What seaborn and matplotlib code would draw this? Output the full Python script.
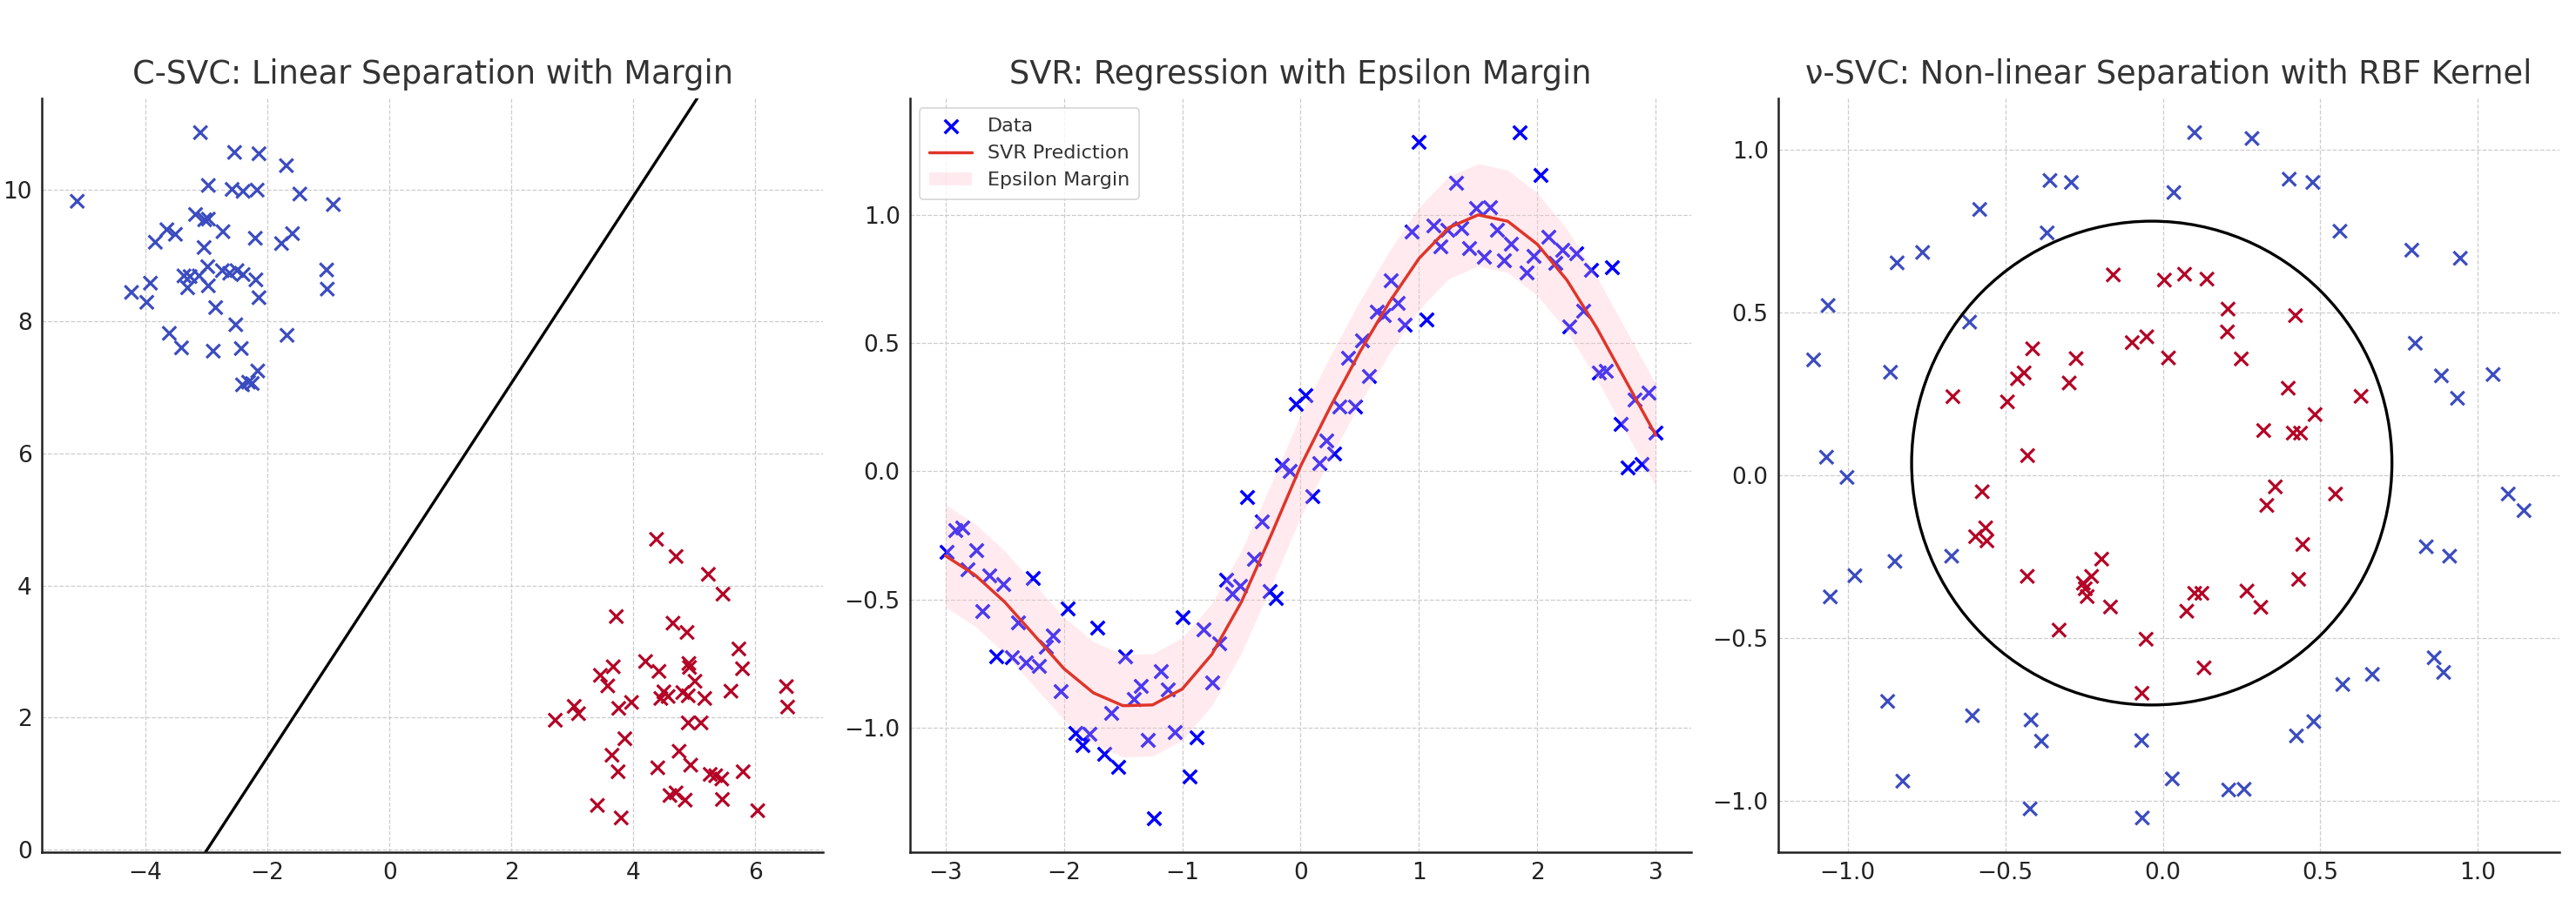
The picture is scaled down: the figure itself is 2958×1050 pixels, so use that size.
import numpy as np
import pandas as pd
import matplotlib
matplotlib.use('Agg')
import matplotlib.pyplot as plt
from matplotlib.patches import Ellipse
import seaborn as sns

# ---------------- C-SVC (two blobs) ----------------
csvc_blue_x = [-5.12, -3.10, -2.54, -2.14, -1.69, -2.97, -2.58, -2.40, -2.17, -1.47,
               -0.92, -3.18, -3.03, -2.97, -3.65, -3.51, -3.84, -2.73, -2.20, -1.77,
               -1.59, -3.04, -3.37, -3.27, -3.12, -2.98, -2.74, -2.62, -2.50, -2.40,
               -2.19, -3.31, -2.97, -3.92, -4.23, -3.98, -2.14, -2.85, -1.03, -1.02,
               -2.52, -3.61, -1.68, -3.41, -2.89, -2.43, -2.16, -2.41, -2.31, -2.25]
csvc_blue_y = [9.82, 10.86, 10.56, 10.54, 10.36, 10.06, 10.00, 9.97, 9.99, 9.93,
               9.77, 9.62, 9.54, 9.55, 9.39, 9.32, 9.20, 9.36, 9.26, 9.18,
               9.33, 9.12, 8.69, 8.68, 8.69, 8.83, 8.77, 8.73, 8.77, 8.71,
               8.63, 8.51, 8.54, 8.58, 8.44, 8.29, 8.36, 8.21, 8.78, 8.49,
               7.95, 7.82, 7.79, 7.60, 7.55, 7.59, 7.25, 7.04, 7.08, 7.06]
csvc_red_x = [4.38, 4.70, 5.23, 5.47, 3.72, 4.65, 4.88, 5.73, 3.67, 4.20,
              4.42, 4.91, 4.92, 5.79, 3.46, 3.58, 5.01, 6.51, 6.53, 4.50,
              4.45, 4.57, 4.81, 4.90, 5.17, 5.60, 3.97, 3.76, 3.03, 3.10,
              2.72, 4.90, 5.11, 3.86, 3.65, 3.75, 4.75, 4.40, 4.94, 5.26,
              5.35, 5.45, 5.80, 4.60, 4.70, 4.85, 5.46, 3.41, 3.80, 6.04]
csvc_red_y = [4.70, 4.44, 4.17, 3.87, 3.53, 3.43, 3.29, 3.04, 2.77, 2.85,
              2.70, 2.82, 2.76, 2.74, 2.64, 2.48, 2.55, 2.47, 2.16, 2.39,
              2.29, 2.32, 2.38, 2.33, 2.29, 2.40, 2.23, 2.14, 2.17, 2.06,
              1.96, 1.92, 1.92, 1.68, 1.43, 1.18, 1.49, 1.24, 1.28, 1.14,
              1.12, 1.07, 1.18, 0.82, 0.86, 0.75, 0.76, 0.67, 0.48, 0.59]
csvc_boundary_slope = 1.416
csvc_boundary_x0 = -2.99   # where the boundary crosses y = 0

# ---------------- SVR (noisy sine) ----------------
svr_x = [-2.99, -2.92, -2.86, -2.74, -2.81, -2.63, -2.51, -2.69, -2.26, -2.39,
         -2.57, -2.44, -2.32, -2.21, -2.15, -2.09, -1.97, -2.03, -1.72, -1.48,
         -1.35, -1.41, -1.60, -1.18, -1.12, -1.90, -1.84, -1.78, -1.66, -1.54,
         -1.29, -1.06, -0.88, -0.94, -1.24, -1.00, -0.82, -0.69, -0.75, -0.63,
         -0.58, -0.51, -0.45, -0.33, -0.39, -0.26, -0.21, -0.16, -0.09, -0.04,
         0.04, 0.33, 0.46, 0.22, 0.28, 0.16, 0.10, 0.52, 0.40, 0.58,
         1.00, 1.85, 2.03, 1.31, 1.48, 1.60, 0.94, 1.12, 1.24, 1.36,
         1.18, 1.42, 1.55, 1.66, 1.78, 1.72, 1.91, 1.97, 2.09, 2.15,
         2.21, 2.33, 2.45, 2.63, 0.76, 0.82, 0.64, 0.70, 0.88, 1.06,
         2.27, 2.39, 2.52, 2.58, 2.94, 2.82, 2.70, 3.00, 2.76, 2.88]
svr_y = [-0.316, -0.229, -0.220, -0.309, -0.384, -0.408, -0.440, -0.545, -0.417, -0.590,
         -0.723, -0.727, -0.747, -0.761, -0.685, -0.640, -0.535, -0.860, -0.612, -0.721,
         -0.839, -0.889, -0.943, -0.780, -0.851, -1.020, -1.068, -1.026, -1.103, -1.155,
         -1.050, -1.018, -1.038, -1.190, -1.353, -0.568, -0.616, -0.673, -0.824, -0.423,
         -0.479, -0.447, -0.102, -0.197, -0.342, -0.467, -0.495, 0.026, 0.000, 0.264,
         0.296, 0.253, 0.253, 0.121, 0.070, 0.033, -0.096, 0.510, 0.442, 0.370,
         1.284, 1.321, 1.155, 1.126, 1.028, 1.031, 0.935, 0.958, 0.943, 0.949,
         0.877, 0.870, 0.836, 0.943, 0.887, 0.824, 0.774, 0.841, 0.915, 0.813,
         0.864, 0.850, 0.787, 0.796, 0.745, 0.655, 0.623, 0.610, 0.570, 0.593,
         0.564, 0.627, 0.384, 0.390, 0.305, 0.279, 0.186, 0.150, 0.015, 0.028]
svr_pred_x = [-3.00, -2.75, -2.50, -2.25, -2.00, -1.75, -1.50, -1.25, -1.00, -0.75,
              -0.50, -0.25, 0.00, 0.25, 0.50, 0.75, 1.00, 1.25, 1.50, 1.75,
              2.00, 2.25, 2.50, 2.75, 3.00]
svr_pred_y = [-0.330, -0.405, -0.510, -0.640, -0.770, -0.865, -0.915, -0.912, -0.850, -0.715,
              -0.510, -0.250, 0.020, 0.250, 0.465, 0.660, 0.830, 0.950, 1.000, 0.975,
              0.885, 0.745, 0.560, 0.350, 0.140]
svr_epsilon = 0.2

# ---------------- nu-SVC (circles) ----------------
nu_blue_x = [-0.358, -0.290, -0.581, -0.367, -0.762, -0.843, -1.062, -0.613, -1.108, -0.864,
             -1.067, -1.002, 0.101, 0.283, 0.035, 0.401, 0.476, 0.562, 0.790, 0.944,
             0.801, 0.884, 1.048, 0.935, -0.850, -0.977, -1.055, -0.670, -0.873, -0.604,
             -0.418, -0.385, -0.067, -0.825, -0.421, -0.065, 1.096, 1.146, 0.836, 0.910,
             0.861, 0.891, 0.571, 0.665, 0.479, 0.424, 0.030, 0.209, 0.258]
nu_blue_y = [0.905, 0.899, 0.816, 0.744, 0.684, 0.652, 0.521, 0.470, 0.354, 0.316,
             0.055, -0.007, 1.052, 1.034, 0.868, 0.909, 0.899, 0.749, 0.691, 0.666,
             0.405, 0.305, 0.309, 0.236, -0.265, -0.309, -0.374, -0.249, -0.695, -0.739,
             -0.752, -0.817, -0.815, -0.940, -1.025, -1.053, -0.058, -0.109, -0.220, -0.249,
             -0.561, -0.606, -0.643, -0.612, -0.757, -0.801, -0.933, -0.967, -0.965]
nu_red_x = [-0.157, -0.097, -0.051, -0.413, -0.275, -0.440, -0.461, -0.297, -0.666, -0.493,
            -0.429, 0.005, 0.069, 0.140, 0.207, 0.421, 0.205, 0.018, 0.249, 0.398,
            0.629, 0.483, 0.320, 0.414, 0.437, -0.573, -0.562, -0.594, -0.558, -0.430,
            -0.194, -0.226, -0.252, -0.246, -0.240, -0.166, -0.329, -0.053, -0.066, 0.357,
            0.330, 0.548, 0.444, 0.431, 0.101, 0.124, 0.267, 0.311, 0.076, 0.131]
nu_red_y = [0.615, 0.407, 0.425, 0.388, 0.358, 0.314, 0.296, 0.283, 0.241, 0.225,
            0.060, 0.599, 0.617, 0.602, 0.510, 0.490, 0.440, 0.360, 0.357, 0.267,
            0.242, 0.186, 0.137, 0.129, 0.129, -0.051, -0.162, -0.189, -0.202, -0.311,
            -0.258, -0.311, -0.332, -0.349, -0.373, -0.405, -0.476, -0.504, -0.670, -0.036,
            -0.093, -0.058, -0.213, -0.320, -0.363, -0.363, -0.356, -0.406, -0.418, -0.592]
nu_boundary_center = (-0.035, 0.037)
nu_boundary_rx = 0.762
nu_boundary_ry = 0.743

# ---------------- styling ----------------
blue_c = plt.cm.coolwarm(0.0)
red_c = plt.cm.coolwarm(1.0)
palette = {0: blue_c, 1: red_c}

sns.set_style('white')
plt.rcParams['font.family'] = ['DejaVu Sans']

fig, axes = plt.subplots(1, 3, figsize=(29.58, 10.5), dpi=100)
fig.subplots_adjust(left=0.0162, right=0.9936, bottom=0.0676, top=0.8924, wspace=0.111)

def style_axes(ax, title):
    ax.set_title(title, fontsize=26.5, color='#333333', pad=12)
    for s in ['top', 'right']:
        ax.spines[s].set_visible(False)
    for s in ['left', 'bottom']:
        ax.spines[s].set_color('#222222')
        ax.spines[s].set_linewidth(1.8)
    ax.tick_params(direction='in', length=6, width=1.5, labelsize=19,
                   colors='#222222', pad=8)
    ax.grid(True, linestyle='--', color='#cccccc', linewidth=0.9)
    ax.set_axisbelow(True)
    ax.set_xlabel('')
    ax.set_ylabel('')

# Panel 1
df1 = pd.DataFrame({
    'x': csvc_blue_x + csvc_red_x,
    'y': csvc_blue_y + csvc_red_y,
    'cls': [0] * len(csvc_blue_x) + [1] * len(csvc_red_x),
})
ax = axes[0]
sns.scatterplot(data=df1, x='x', y='y', hue='cls', palette=palette, marker='x',
                s=125, linewidth=2.3, legend=False, ax=ax)
ax.autoscale_view()
xl, yl = ax.get_xlim(), ax.get_ylim()
ax.axline((csvc_boundary_x0, 0), slope=csvc_boundary_slope, color='black', linewidth=2.4)
ax.set_xlim(xl)
ax.set_ylim(yl)
style_axes(ax, 'C-SVC: Linear Separation with Margin')

# Panel 2
ax = axes[1]
sns.scatterplot(x=svr_x, y=svr_y, color='blue', marker='x', s=125, linewidth=2.5,
                label='Data', ax=ax)
sns.lineplot(x=svr_pred_x, y=svr_pred_y, color='#e0352a', linewidth=2.5,
             label='SVR Prediction', ax=ax)
lo = [v - svr_epsilon for v in svr_pred_y]
hi = [v + svr_epsilon for v in svr_pred_y]
ax.fill_between(svr_pred_x, lo, hi, color='pink', alpha=0.3, linewidth=0,
                label='Epsilon Margin')
style_axes(ax, 'SVR: Regression with Epsilon Margin')
leg = ax.legend(loc='upper left', fontsize=16, frameon=True, fancybox=True,
                borderpad=0.5, handlelength=2.2)
leg.get_frame().set_edgecolor('#cccccc')
leg.get_frame().set_linewidth(1.2)
for t in leg.get_texts():
    t.set_color('#333333')

# Panel 3
df3 = pd.DataFrame({
    'x': nu_blue_x + nu_red_x,
    'y': nu_blue_y + nu_red_y,
    'cls': [0] * len(nu_blue_x) + [1] * len(nu_red_x),
})
ax = axes[2]
sns.scatterplot(data=df3, x='x', y='y', hue='cls', palette=palette, marker='x',
                s=125, linewidth=2.3, legend=False, ax=ax)
ax.add_patch(Ellipse(nu_boundary_center, 2 * nu_boundary_rx, 2 * nu_boundary_ry,
                     fill=False, edgecolor='black', linewidth=2.4))
style_axes(ax, 'ν-SVC: Non-linear Separation with RBF Kernel')

fig.savefig('out.png', dpi=100)
